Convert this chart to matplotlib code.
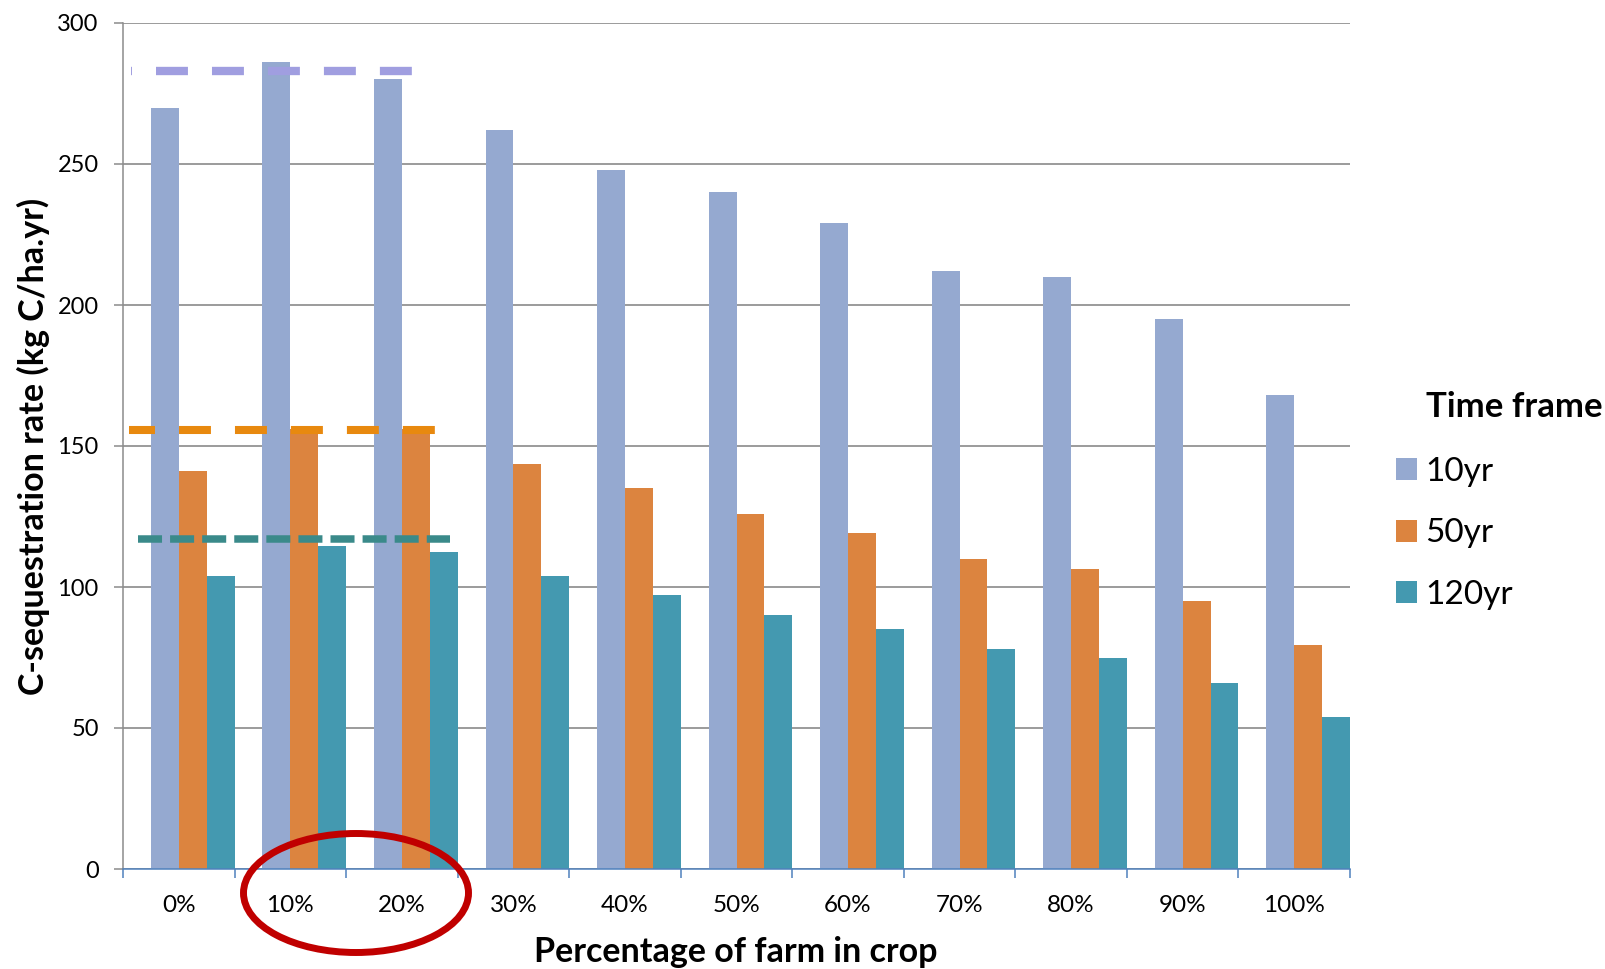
import numpy as np
import matplotlib
matplotlib.use('Agg')
import matplotlib.pyplot as plt
from matplotlib.patches import Ellipse

plt.rcParams['font.family'] = ['Lato', 'DejaVu Sans']
plt.rcParams['lines.scale_dashes'] = False

categories = ['0%', '10%', '20%', '30%', '40%', '50%', '60%', '70%', '80%', '90%', '100%']
yr10 = [270, 286, 280, 262, 248, 240, 229, 212, 210, 195, 168]
yr50 = [141, 156, 156, 143.5, 135, 126, 119, 110, 106.5, 95, 79.5]
yr120 = [104, 114.5, 112.5, 104, 97, 90, 85, 78, 75, 66, 54]
series_names = ['10yr', '50yr', '120yr']
bar_colors = ['#95a9d0', '#dc843f', '#4499b0']

# reference levels (dashed)
ref_levels = [283, 155.7, 117.0]
ref_span = [(-0.43, 2.10), (-0.45, 2.30), (-0.37, 2.43)]

fig = plt.figure(figsize=(16.05, 9.69), dpi=100)
ax = fig.add_axes([123/1605, 1 - 869/969, 1227/1605, 846/969])

x = np.arange(len(categories))
w = 0.25
bars = []
for i, (vals, col) in enumerate(zip([yr10, yr50, yr120], bar_colors)):
    b = ax.bar(x - 0.125 + i*w, vals, width=w, color=col, zorder=2, label=series_names[i])
    bars.append(b)

# dashed reference lines
ax.plot(ref_span[0], [ref_levels[0]]*2, color='#a09ee0', lw=6,
        linestyle=(22.3, (23, 17.3)), solid_capstyle='butt', zorder=4)
ax.plot(ref_span[1], [ref_levels[1]]*2, color='#e8890f', lw=5.8,
        linestyle=(4.3, (23, 17.3)), solid_capstyle='butt', zorder=4)
ax.plot(ref_span[2], [ref_levels[2]]*2, color='#3a8a8a', lw=5.4,
        linestyle=(0, (17.3, 5.8)), solid_capstyle='butt', zorder=4)

ax.set_xlim(-0.5, 10.5)
ax.set_ylim(0, 300)
ax.set_yticks(np.arange(0, 301, 50))
ax.yaxis.grid(True, color='#8a8a8a', lw=1.2, zorder=0)
ax.set_axisbelow(True)

ax.set_xticks(x)
ax.set_xticklabels(categories, fontsize=17.5)
ax.set_xticks(np.arange(-0.5, 11, 1), minor=True)
ax.tick_params(axis='x', which='major', length=0, pad=19)
ax.tick_params(axis='x', which='minor', length=6.5, width=1.1, color='#4f81bd', direction='out')
ax.tick_params(axis='y', length=6.5, width=1.1, color='#8c8c8c', pad=11, labelsize=17)

for s in ['top', 'right']:
    ax.spines[s].set_visible(False)
ax.spines['left'].set_color('#8c8c8c')
ax.spines['left'].set_linewidth(1.1)
ax.spines['bottom'].set_color('#4f81bd')
ax.spines['bottom'].set_linewidth(1.1)
ax.spines['bottom'].set_zorder(5)

fig.text(33/1605, 1 - 446/969, 'C-sequestration rate (kg C/ha.yr)', rotation=90,
         fontsize=24.5, fontweight='bold', ha='center', va='center')
fig.text(736/1605, 1 - 962/969, 'Percentage of farm in crop',
         fontsize=24.5, fontweight='bold', ha='center', va='baseline')

fig.text(1426/1605, 1 - 407/969, 'Time frame', fontsize=25, fontweight='bold',
         ha='left', va='center')
fig.legend(handles=bars, labels=series_names, loc='upper left',
           bbox_to_anchor=(1396/1605, 1 - 457/969), frameon=False, fontsize=24,
           handlelength=0.63, handleheight=0.63, handletextpad=0.25, labelspacing=0.94,
           borderaxespad=0, borderpad=0)

fig.patches.append(Ellipse((356/1605, 1 - 893/969), 225/1605, 119/969,
                           transform=fig.transFigure, fill=False,
                           edgecolor='#c00000', lw=5, zorder=10))

fig.savefig('out.png', dpi=100)
